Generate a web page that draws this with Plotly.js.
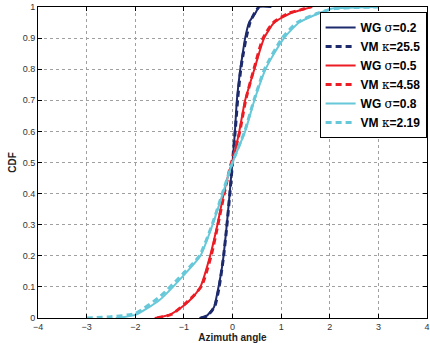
<!DOCTYPE html>
<html>
<head>
<meta charset="utf-8">
<script src="https://cdn.plot.ly/plotly-3.0.1.min.js"></script>
<style>html,body{margin:0;padding:0;background:#fff;}#chart{width:430px;height:343px;}</style>
</head>
<body>
<div id="chart"></div>
<script>
// WG sigma=0.2
const wg02X = [-0.68,-0.55,-0.45,-0.38,-0.30,-0.20,-0.13,-0.07,-0.02,0.00,0.05,0.09,0.16,0.19,0.26,0.34,0.47,0.55,0.80];
const wg02Y = [0.000,0.005,0.020,0.035,0.090,0.180,0.280,0.380,0.470,0.500,0.600,0.700,0.800,0.830,0.900,0.950,0.980,1.000,1.000];
// VM kappa=25.5
const vm255X = [-0.65,-0.53,-0.43,-0.36,-0.28,-0.19,-0.12,-0.06,-0.01,0.01,0.06,0.11,0.17,0.21,0.28,0.36,0.47,0.54];
const vm255Y = [0.000,0.006,0.022,0.040,0.095,0.190,0.290,0.390,0.480,0.520,0.610,0.710,0.800,0.840,0.900,0.950,0.985,1.000];
// WG sigma=0.5
const wg05X = [-1.60,-1.30,-1.00,-0.80,-0.66,-0.46,-0.31,-0.18,-0.05,0.00,0.14,0.26,0.45,0.65,0.86,1.19,1.40,1.64];
const wg05Y = [0.000,0.010,0.040,0.070,0.100,0.200,0.300,0.400,0.480,0.500,0.600,0.700,0.800,0.900,0.950,0.980,0.990,1.000];
// VM kappa=4.58
const vm458X = [-1.55,-1.25,-0.98,-0.78,-0.63,-0.44,-0.30,-0.17,-0.04,0.02,0.15,0.27,0.44,0.63,0.84,1.15,1.38,1.60];
const vm458Y = [0.000,0.012,0.045,0.075,0.105,0.200,0.300,0.400,0.490,0.520,0.600,0.700,0.800,0.900,0.950,0.980,0.990,1.000];
// WG sigma=0.8
const wg08X = [-2.40,-2.00,-1.50,-1.00,-0.66,-0.41,-0.20,0.00,0.26,0.45,0.68,0.78,1.06,1.37,1.78,2.05,2.50,3.00];
const wg08Y = [0.000,0.010,0.058,0.138,0.200,0.300,0.400,0.500,0.600,0.700,0.800,0.830,0.900,0.950,0.980,0.995,0.998,1.000];
// VM kappa=2.19
const vm219X = [-3.00,-2.50,-2.00,-1.50,-1.00,-0.68,-0.42,-0.21,0.00,0.25,0.44,0.66,1.02,1.33,1.75,2.10,2.50,3.00];
const vm219Y = [0.000,0.004,0.015,0.068,0.145,0.200,0.300,0.400,0.500,0.600,0.700,0.800,0.900,0.950,0.980,0.995,0.998,1.000];

const xTicks = [-4,-3,-2,-1,0,1,2,3,4];
const yTicks = [0,0.1,0.2,0.3,0.4,0.5,0.6,0.7,0.8,0.9,1];
const yTickText = ['0','0.1','0.2','0.3','0.4','0.5','0.6','0.7','0.8','0.9','1'];

const navy = '#1d2a6c', red = '#ec1c24', cyan = '#66c8d8';

function tr(x, y, name, color, dash, w) {
  return {x: x, y: y, name: name, type: 'scatter', mode: 'lines',
    line: {color: color, width: w, dash: dash, shape: 'spline', smoothing: 0.6}};
}
const sym = s => '<span style="font-family:\'DejaVu Serif\',serif;font-weight:normal">' + s + '</span>';
const data = [
  tr(wg02X, wg02Y, '<b>WG </b>' + sym('σ') + '<b>=0.2</b>', navy, 'solid', 2),
  tr(vm255X, vm255Y, '<b>VM </b>' + sym('κ') + '<b>=25.5</b>', navy, '6px,4px', 3),
  tr(wg05X, wg05Y, '<b>WG </b>' + sym('σ') + '<b>=0.5</b>', red, 'solid', 2),
  tr(vm458X, vm458Y, '<b>VM </b>' + sym('κ') + '<b>=4.58</b>', red, '6px,4px', 3),
  tr(wg08X, wg08Y, '<b>WG </b>' + sym('σ') + '<b>=0.8</b>', cyan, 'solid', 2),
  tr(vm219X, vm219Y, '<b>VM </b>' + sym('κ') + '<b>=2.19</b>', cyan, '6px,4px', 3)
];

const axisCommon = {
  showline: true, linecolor: '#000', linewidth: 1, mirror: 'ticks',
  ticks: 'inside', ticklen: 4, tickcolor: '#000',
  showgrid: true, gridcolor: '#a0a0a0', griddash: 'dot', gridwidth: 1,
  zeroline: false, ticklabeloverflow: 'allow',
  tickfont: {family: 'Liberation Sans, Arial, sans-serif', size: 9, color: '#333'}
};

const layout = {
  width: 430, height: 343,
  margin: {l: 38, r: 3, t: 7, b: 25},
  paper_bgcolor: '#fff', plot_bgcolor: '#fff',
  showlegend: true,
  xaxis: Object.assign({}, axisCommon, {
    range: [-4, 4], tickmode: 'array', tickvals: xTicks, ticktext: xTicks.map(v => v < 0 ? '\u2212' + (-v) : String(v)),
    title: {text: '<b>Azimuth angle</b>', standoff: 2, font: {family: 'Liberation Sans, Arial, sans-serif', size: 10, color: '#222'}}
  }),
  yaxis: Object.assign({}, axisCommon, {
    range: [0, 1], tickmode: 'array', tickvals: yTicks, ticktext: yTickText,
    title: {text: '<b>CDF</b>', standoff: 4, font: {family: 'Liberation Sans, Arial, sans-serif', size: 10, color: '#222'}}
  }),
  legend: {
    x: 0.999, xanchor: 'right', y: 0.984, yanchor: 'top',
    bgcolor: '#fff', bordercolor: '#000', borderwidth: 1,
    font: {family: 'Liberation Sans, Arial, sans-serif', size: 12, color: '#000'},
    tracegroupgap: 0, itemwidth: 30
  }
};

Plotly.newPlot('chart', data, layout, {staticPlot: true, displayModeBar: false});
</script>
</body>
</html>
